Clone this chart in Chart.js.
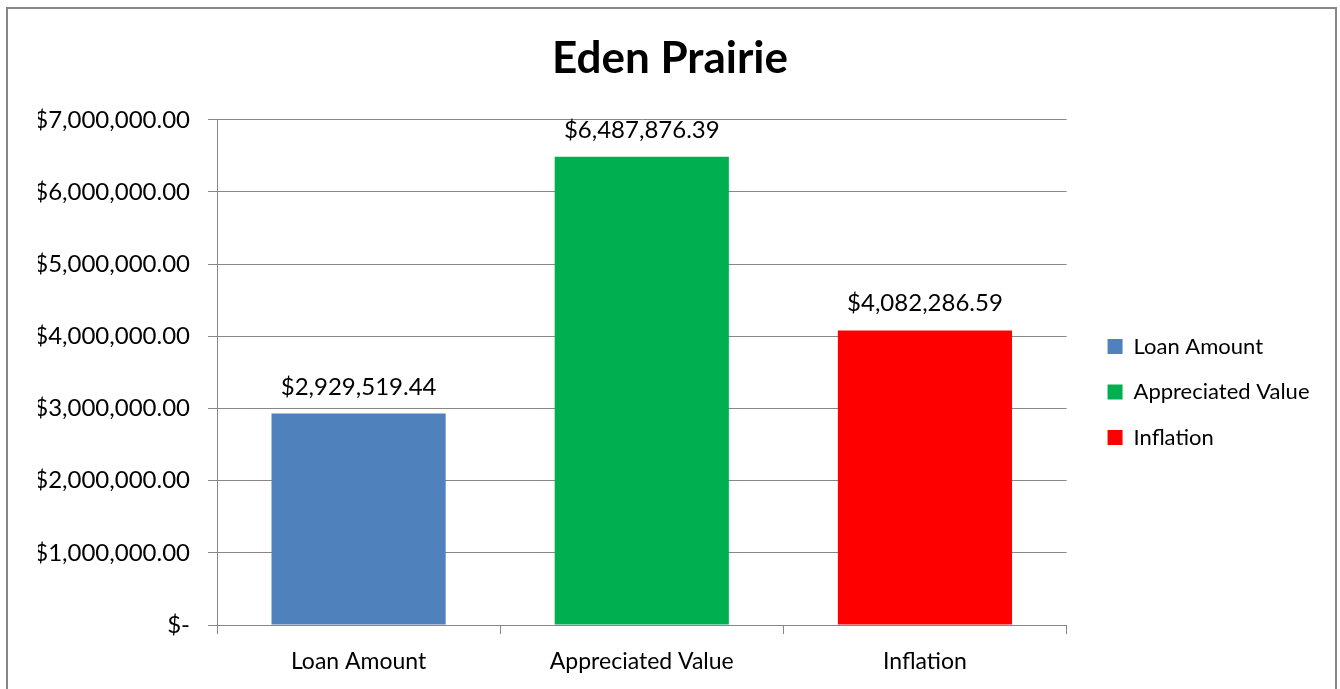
<!DOCTYPE html>
<html>
<head>
<meta charset="utf-8">
<script src="https://cdn.jsdelivr.net/npm/chart.js@4.4.0/dist/chart.umd.min.js"></script>
<style>
  html, body { margin: 0; padding: 0; background: #fff; overflow: hidden; }
</style>
</head>
<body>
<canvas id="edenChart" width="1340" height="689"></canvas>
<script>
const categories = ['Loan Amount', 'Appreciated Value', 'Inflation'];
const values = [2929519.44, 6487876.39, 4082286.59];
const barColors = ['#4F81BD', '#00B050', '#FF0000'];
const yMax = 7000000;
const yStep = 1000000;

const fontName = 'Lato';
const sidePad = 38;

var money = function (v) {
  if (v === 0) return '$-';
  return '$' + v.toLocaleString('en-US', { minimumFractionDigits: 2, maximumFractionDigits: 2 });
}

// grey frame round the whole chart
const framePlugin = {
  id: 'frame',
  beforeDraw: function (chart) {
    const c = chart.ctx;
    c.save();
    c.fillStyle = '#fff';
    c.fillRect(0, 0, chart.width, chart.height);
    c.strokeStyle = '#878787';
    c.lineWidth = 2;
    c.strokeRect(7, 8, 1329, 700);
    c.restore();
  }
};

// value labels above each bar
const valueLabels = {
  id: 'valueLabels',
  afterDatasetsDraw: function (chart) {
    const c = chart.ctx;
    const meta = chart.getDatasetMeta(0);
    c.save();
    c.font = '24px ' + fontName;
    c.fillStyle = '#000';
    c.textAlign = 'center';
    c.textBaseline = 'alphabetic';
    meta.data.forEach(function (bar, i) {
      c.fillText(money(values[i]), bar.x, bar.y - 19);
    });
    c.restore();
  }
};

// push the legend a bit away from the plot, like the original
const legendSpot = {
  id: 'legendSpot',
  afterLayout: function (chart) {
    const lg = chart.legend;
    const dx = chart.chartArea.right + 41 - (lg.left + lg.options.labels.padding);
    lg.left += dx;
    lg.right += dx;
    lg.top = 312;
  }
};

var ctx = document.getElementById('edenChart');
const edenChart = new Chart(ctx, {
  type: 'bar',
  data: {
    labels: categories,
    datasets: [{
      label: 'Eden Prairie',
      data: values,
      backgroundColor: barColors,
      borderWidth: 0,
      barPercentage: 1,
      categoryPercentage: 0.615
    }]
  },
  options: {
    responsive: false,
    animation: false,
    layout: {
      padding: { left: sidePad, right: sidePad, top: 0, bottom: 0 }
    },
    plugins: {
      title: {
        display: true,
        text: 'Eden Prairie',
        color: '#000',
        font: { family: fontName, size: 44, weight: 'bold' },
        padding: { top: 32, bottom: 35 }
      },
      legend: {
        position: 'right',
        align: 'start',
        labels: {
          color: '#000',
          font: { family: fontName, size: 22 },
          boxWidth: 15,
          boxHeight: 15,
          padding: 23.5,
          generateLabels: function (chart) {
            return categories.map(function (name, i) {
              return {
                text: name,
                fillStyle: barColors[i],
                strokeStyle: barColors[i],
                lineWidth: 0,
                hidden: false,
                index: i
              };
            });
          }
        }
      },
      tooltip: { enabled: false }
    },
    scales: {
      x: {
        afterFit: function (scale) { scale.height = 64; },
        grid: {
          display: true,
          offset: true,
          drawOnChartArea: false,
          drawTicks: true,
          tickLength: 9,
          color: '#878787'
        },
        border: { color: '#878787' },
        ticks: {
          color: '#000',
          padding: 14,
          font: { family: fontName, size: 23 }
        }
      },
      y: {
        min: 0,
        max: yMax,
        afterFit: function (scale) { scale.width = 217 - sidePad; },
        grid: {
          color: '#878787',
          drawTicks: true,
          tickLength: 9
        },
        border: { color: '#878787' },
        ticks: {
          stepSize: yStep,
          color: '#000',
          padding: 18,
          font: { family: fontName, size: 24 },
          callback: function (v) { return money(v); }
        }
      }
    }
  },
  plugins: [framePlugin, valueLabels, legendSpot]
});
</script>
</body>
</html>
